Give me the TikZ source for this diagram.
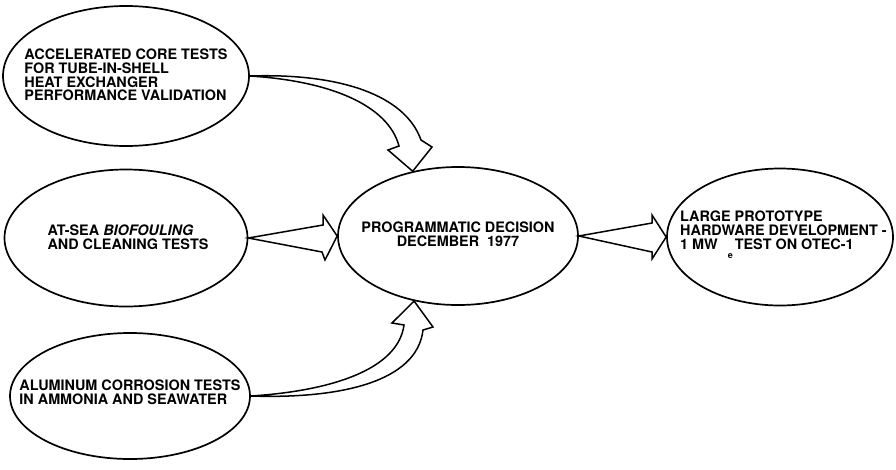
\documentclass[tikz,border=0pt]{standalone}
\usepackage{fontspec}
\setmainfont{TeX Gyre Heros}
\usetikzlibrary{shapes.geometric}
\begin{document}
\begin{tikzpicture}[x=1pt,y=-1pt,
  oval/.style={draw, ellipse, line width=1.7pt, inner sep=0pt},
  lbl/.style={font=\bfseries\fontsize{14.4}{13.8}\selectfont, inner sep=0pt, align=left},
  lblc/.style={font=\bfseries\fontsize{14.4}{14.5}\selectfont, inner sep=0pt, align=center},
  arr/.style={draw, line width=1.5pt, line join=miter, fill=white}]
\useasboundingbox[fill=white] (0,0) rectangle (896,469);
% ellipses
\node[oval, minimum width=246pt, minimum height=140pt] (e1) at (126,76) {};
\node[oval, minimum width=243pt, minimum height=137pt] (e2) at (126,238) {};
\node[oval, minimum width=240pt, minimum height=126pt] (e3) at (130,396) {};
\node[oval, minimum width=240pt, minimum height=138pt] (e4) at (458,236) {};
\node[oval, minimum width=226pt, minimum height=137pt] (e5) at (780,237) {};
% texts
\node[lbl] (t1) at ([yshift=1pt]e1.center) {ACCELERATED CORE TESTS\\FOR TUBE-IN-SHELL\\HEAT EXCHANGER\\PERFORMANCE VALIDATION};
\node[lbl] (t2) at ([xshift=2pt,yshift=1pt]e2.center) {AT-SEA \textit{BIOFOULING}\\AND CLEANING TESTS};
\node[lbl] (t3) at ([yshift=4pt]e3.center) {ALUMINUM CORROSION TESTS\\IN AMMONIA AND SEAWATER};
\node[lblc] (t4) at ([yshift=2pt]e4.center) {PROGRAMMATIC DECISION\\DECEMBER\ \ 1977};
\node[lbl, anchor=north west] (t5) at (680,211) {LARGE PROTOTYPE\\HARDWARE DEVELOPMENT -\\1 MW\hspace{10pt}\raisebox{-9pt}{\fontsize{9}{9}\selectfont e}\hspace{2pt}TEST ON OTEC-1};
% straight arrows
\draw[arr] (e2.east) -- (323,225) -- (323,215) -- (e4.west) -- (325,260) -- (322,252) -- cycle;
\draw[arr] (e4.east) -- (652,223) -- (652,215) -- (e5.west) -- (652,259) -- (652,252) -- cycle;
% curved arrows
\draw[arr] (e1.east) .. controls (340,73) and (405,95) .. (421,140) -- (432,147) -- (e4.125) -- (388,150) -- (399,146) .. controls (388,105) and (330,81) .. (e1.east) -- cycle;
\draw[arr] (e3.east) .. controls (340,399) and (417,382) .. (423,330) -- (433,327) -- (e4.-124) -- (392,323) -- (404,325) .. controls (398,370) and (330,391) .. (e3.east) -- cycle;
\end{tikzpicture}
\end{document}
